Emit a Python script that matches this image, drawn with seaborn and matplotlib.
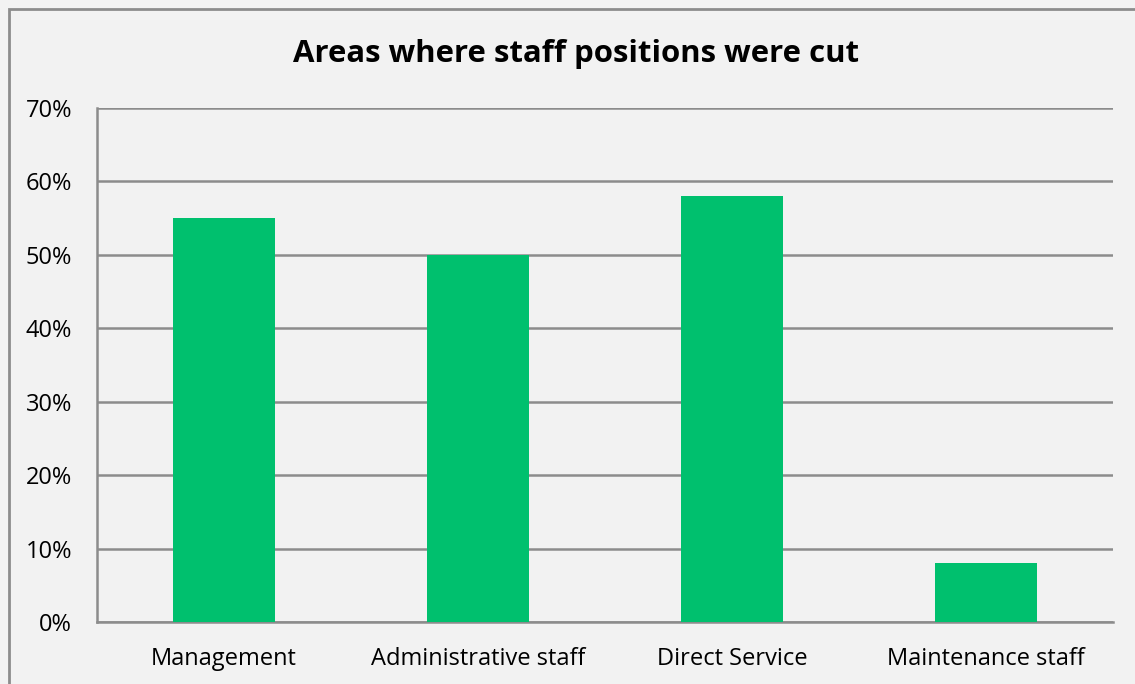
import matplotlib
matplotlib.use("Agg")
import matplotlib.pyplot as plt
import seaborn as sns
import pandas as pd
from matplotlib.patches import Rectangle
from matplotlib.ticker import FuncFormatter, MultipleLocator

categories = ["Management", "Administrative staff", "Direct Service", "Maintenance staff"]
shares = [55, 50, 58, 8]
title = "Areas where staff positions were cut"

df = pd.DataFrame({"area": categories, "share": shares})

sns.set_theme(style="white")
plt.rcParams["font.family"] = ["Open Sans", "DejaVu Sans"]

W, H = 1135, 684
bg = "#f2f2f2"
grid = "#8c8c8c"

fig = plt.figure(figsize=(W / 100, H / 100), dpi=100, facecolor=bg)
ax = fig.add_axes([97 / W, 1 - 622 / H, (1113 - 97) / W, (622 - 108) / H])
ax.set_facecolor(bg)

sns.barplot(data=df, x="area", y="share", color="#00c06e", width=0.4,
            saturation=1, linewidth=0, edgecolor="none", ax=ax, zorder=3)

ax.set_ylim(0, 70)
ax.set_xlim(-0.5, len(categories) - 0.5)
ax.yaxis.set_major_locator(MultipleLocator(10))
ax.yaxis.set_major_formatter(FuncFormatter(lambda v, _: f"{v:.0f}%"))
ax.grid(axis="y", color=grid, linewidth=1.8, zorder=0)
ax.set_axisbelow(True)
ax.set_xlabel("")
ax.set_ylabel("")
for side in ("top", "right"):
    ax.spines[side].set_visible(False)
for side in ("left", "bottom"):
    ax.spines[side].set_color(grid)
    ax.spines[side].set_linewidth(1.8)
ax.tick_params(axis="both", length=0, labelsize=17, colors="black")
ax.tick_params(axis="y", pad=18)
ax.tick_params(axis="x", pad=18)

fig.text(576 / W, 1 - 54 / H, title, ha="center", va="center",
         fontsize=22.4, fontweight="bold", color="black")

# outer chart frame
fig.patches.append(Rectangle((9 / W, -0.1), 1.2, 1 - 9 / H + 0.1,
                             transform=fig.transFigure, fill=False,
                             edgecolor=grid, linewidth=2, zorder=10))

fig.savefig("out.png", dpi=100, facecolor=bg)
